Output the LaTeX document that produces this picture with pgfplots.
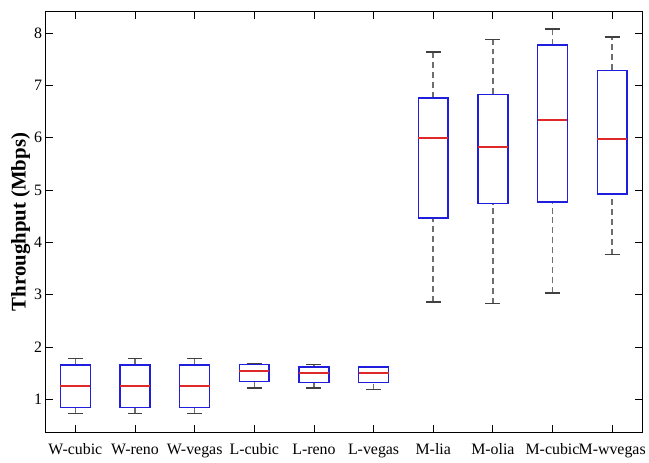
\documentclass[border=0pt]{standalone}
\usepackage{fontspec}
\setmainfont{Liberation Serif}
\usepackage{pgfplots}
\usepgfplotslibrary{statistics}
\pgfplotsset{compat=1.18}
\definecolor{boxblue}{RGB}{30,30,220}
\definecolor{medred}{RGB}{225,40,40}
\definecolor{whisk}{RGB}{110,110,110}

\begin{document}
\begin{tikzpicture}
\begin{axis}[
  scale only axis,
  width=598.6bp, height=422.3bp,
  xmin=0.5, xmax=10.5,
  ymin=0.37, ymax=8.41,
  xtick={1,...,10},
  xticklabels={W-cubic,W-reno,W-vegas,L-cubic,L-reno,L-vegas,M-lia,M-olia,M-cubic,M-wvegas},
  ytick={1,...,8},
  tick align=inside,
  major tick length=7bp,
  tick style={black, line width=0.8bp},
  axis line style={black, line width=1bp},
  tick label style={font=\fontsize{16}{16}\selectfont},
  x tick label style={yshift=-8bp},
  /pgf/number format/assume math mode=true,
  ylabel={\bfseries Throughput (Mbps)},
  ylabel style={font=\fontsize{21}{21}\selectfont, yshift=-3bp},
  boxplot/draw direction=y,
  boxplot/box extend=0.5,
  boxplot/whisker extend=0.25,
  boxplot/every box/.style={draw=boxblue, line width=1.5bp},
  boxplot/every median/.style={draw=medred, line width=2bp},
  boxplot/draw/lower whisker/.code={
    \draw[whisk, line width=1.5bp, dash pattern=on 6bp off 4bp]
      (boxplot box cs:\pgfplotsboxplotvalue{lower whisker},0.5) --
      (boxplot box cs:\pgfplotsboxplotvalue{lower quartile},0.5);
    \draw[black!75, line width=1.5bp]
      (boxplot whisker cs:\pgfplotsboxplotvalue{lower whisker},0) --
      (boxplot whisker cs:\pgfplotsboxplotvalue{lower whisker},1);
  },
  boxplot/draw/upper whisker/.code={
    \draw[whisk, line width=1.5bp, dash pattern=on 6bp off 4bp]
      (boxplot box cs:\pgfplotsboxplotvalue{upper quartile},0.5) --
      (boxplot box cs:\pgfplotsboxplotvalue{upper whisker},0.5);
    \draw[black!75, line width=1.5bp]
      (boxplot whisker cs:\pgfplotsboxplotvalue{upper whisker},0) --
      (boxplot whisker cs:\pgfplotsboxplotvalue{upper whisker},1);
  },
]
% W-* (wifi only)
\addplot[boxblue, boxplot prepared={draw position=1, lower whisker=0.73, lower quartile=0.85, median=1.25, upper quartile=1.66, upper whisker=1.78}] coordinates {};
\addplot[boxblue, boxplot prepared={draw position=2, lower whisker=0.73, lower quartile=0.85, median=1.25, upper quartile=1.66, upper whisker=1.78}] coordinates {};
\addplot[boxblue, boxplot prepared={draw position=3, lower whisker=0.73, lower quartile=0.85, median=1.25, upper quartile=1.66, upper whisker=1.78}] coordinates {};
% L-* (lte only)
\addplot[boxblue, boxplot prepared={draw position=4, lower whisker=1.22, lower quartile=1.34, median=1.54, upper quartile=1.67, upper whisker=1.69}] coordinates {};
\addplot[boxblue, boxplot prepared={draw position=5, lower whisker=1.22, lower quartile=1.32, median=1.50, upper quartile=1.62, upper whisker=1.67}] coordinates {};
\addplot[boxblue, boxplot prepared={draw position=6, lower whisker=1.19, lower quartile=1.32, median=1.51, upper quartile=1.62, upper whisker=1.62}] coordinates {};
% M-* (multipath)
\addplot[boxblue, boxplot prepared={draw position=7, lower whisker=2.86, lower quartile=4.47, median=6.00, upper quartile=6.76, upper whisker=7.64}] coordinates {};
\addplot[boxblue, boxplot prepared={draw position=8, lower whisker=2.83, lower quartile=4.74, median=5.82, upper quartile=6.83, upper whisker=7.88}] coordinates {};
\addplot[boxblue, boxplot prepared={draw position=9, lower whisker=3.03, lower quartile=4.77, median=6.34, upper quartile=7.77, upper whisker=8.08}] coordinates {};
\addplot[boxblue, boxplot prepared={draw position=10, lower whisker=3.77, lower quartile=4.93, median=5.97, upper quartile=7.29, upper whisker=7.93}] coordinates {};
\end{axis}
\path (current axis.south west) ++(-45.7bp,-30bp) rectangle ++(649bp,464bp);
\end{tikzpicture}
\end{document}
